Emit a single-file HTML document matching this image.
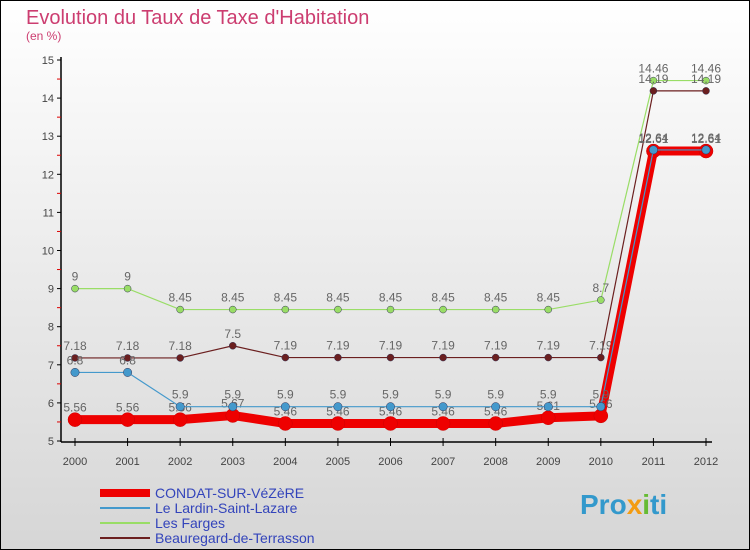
<!DOCTYPE html>
<html><head><meta charset="utf-8"><style>
body{margin:0;width:750px;height:550px;overflow:hidden;font-family:"Liberation Sans",sans-serif}
svg{display:block}
</style></head><body>
<svg width="750" height="550" xmlns="http://www.w3.org/2000/svg">
<defs><linearGradient id="bg" x1="0" y1="0" x2="0" y2="1"><stop offset="0" stop-color="#ffffff"/><stop offset="1" stop-color="#d6d6d6"/></linearGradient></defs>
<rect x="0.5" y="0.5" width="749" height="549" fill="url(#bg)" stroke="#000"/>
<text x="26" y="24" font-size="20" fill="#cc3d70">Evolution du Taux de Taxe d'Habitation</text>
<text x="26" y="40" font-size="12" fill="#cc3d70">(en %)</text>
<g id="axes"></g>
<g id="series"></g>
<g id="legend"></g>
<text x="580" y="514" font-size="28" font-weight="bold" fill="#3399cc">Pro<tspan fill="#f39c12">x</tspan><tspan fill="#66bb33">i</tspan>ti</text>
</svg>
<script>
const years=["2000","2001","2002","2003","2004","2005","2006","2007","2008","2009","2010","2011","2012"];
const yTicks=[5,6,7,8,9,10,11,12,13,14,15];
const condat=[5.56,5.56,5.56,5.67,5.46,5.46,5.46,5.46,5.46,5.61,5.66,12.61,12.61];
const lardin=[6.8,6.8,5.9,5.9,5.9,5.9,5.9,5.9,5.9,5.9,5.9,12.64,12.64];
const farges=[9,9,8.45,8.45,8.45,8.45,8.45,8.45,8.45,8.45,8.7,14.46,14.46];
const beaureg=[7.18,7.18,7.18,7.5,7.19,7.19,7.19,7.19,7.19,7.19,7.19,14.19,14.19];
const NS="http://www.w3.org/2000/svg";
const xs=i=>75+i*(706-75)/12;
const ys=v=>441-(v-5)*38.1;
function mk(p,t,a){const e=document.createElementNS(NS,t);for(const k in a)e.setAttribute(k,a[k]);p.appendChild(e);return e;}
const ax=document.getElementById('axes');
let l=mk(ax,'line',{x1:61,y1:57,x2:61,y2:442,stroke:'#000','stroke-width':1.5});


l=mk(ax,'line',{x1:61,y1:442,x2:712,y2:442,stroke:'#000','stroke-width':1.5});


yTicks.forEach(v=>{
 mk(ax,'line',{x1:57,y1:ys(v),x2:61,y2:ys(v),stroke:'#000'});
 if(v<15)mk(ax,'line',{x1:57,y1:ys(v+0.5),x2:61,y2:ys(v+0.5),stroke:'#d00'});
 const t=mk(ax,'text',{x:54,y:ys(v)+4,'font-size':11,fill:'#444','text-anchor':'end'});t.textContent=v;
 
 
});
years.forEach((y,i)=>{
 mk(ax,'line',{x1:xs(i),y1:438,x2:xs(i),y2:446,stroke:'#000'});
 const t=mk(ax,'text',{x:xs(i),y:465,'font-size':11,fill:'#444','text-anchor':'middle'});t.textContent=y;
 
 
});
const S=document.getElementById('series');
const defs=[
 {d:farges,c:'#99dd66',w:1.2,r:3.5,n:'les-farges'},
 {d:beaureg,c:'#6b1f1f',w:1.2,r:3.5,n:'beauregard-de-terrasson'},
 {d:condat,c:'#ee0000',w:9,r:7,n:'condat-sur-vezere'},
 {d:lardin,c:'#4499cc',w:1.2,r:4.2,n:'le-lardin-saint-lazare'}];
defs.forEach(s=>{
 const g=mk(S,'g',{});
 
 
 const p=mk(g,'polyline',{points:s.d.map((v,i)=>xs(i)+','+ys(v)).join(' '),fill:'none',stroke:s.c,'stroke-width':s.w});
 
 
 s.d.forEach((v,i)=>{
  const c=mk(g,'circle',{cx:xs(i),cy:ys(v),r:s.r,fill:s.c,stroke:s.w>2?'#cc0000':'#335',"stroke-width":0.5});
  
  
  const t=mk(g,'text',{x:xs(i),y:ys(v)-8,'font-size':12,fill:'#666','text-anchor':'middle'});t.textContent=v;
  
  
 });
});
const L=document.getElementById('legend');
const leg=[['CONDAT-SUR-VéZèRE','#ee0000',8],['Le Lardin-Saint-Lazare','#4499cc',2],['Les Farges','#99dd66',2],['Beauregard-de-Terrasson','#6b1f1f',2]];
leg.forEach((e,i)=>{
 const y=493+i*15;
 const g=mk(L,'g',{});
 
 
 mk(g,'line',{x1:100,y1:y,x2:150,y2:y,stroke:e[1],'stroke-width':e[2]});
 const t=mk(g,'text',{x:155,y:y+5,'font-size':14,fill:'#3344bb'});t.textContent=e[0];
});
</script>
</body></html>
